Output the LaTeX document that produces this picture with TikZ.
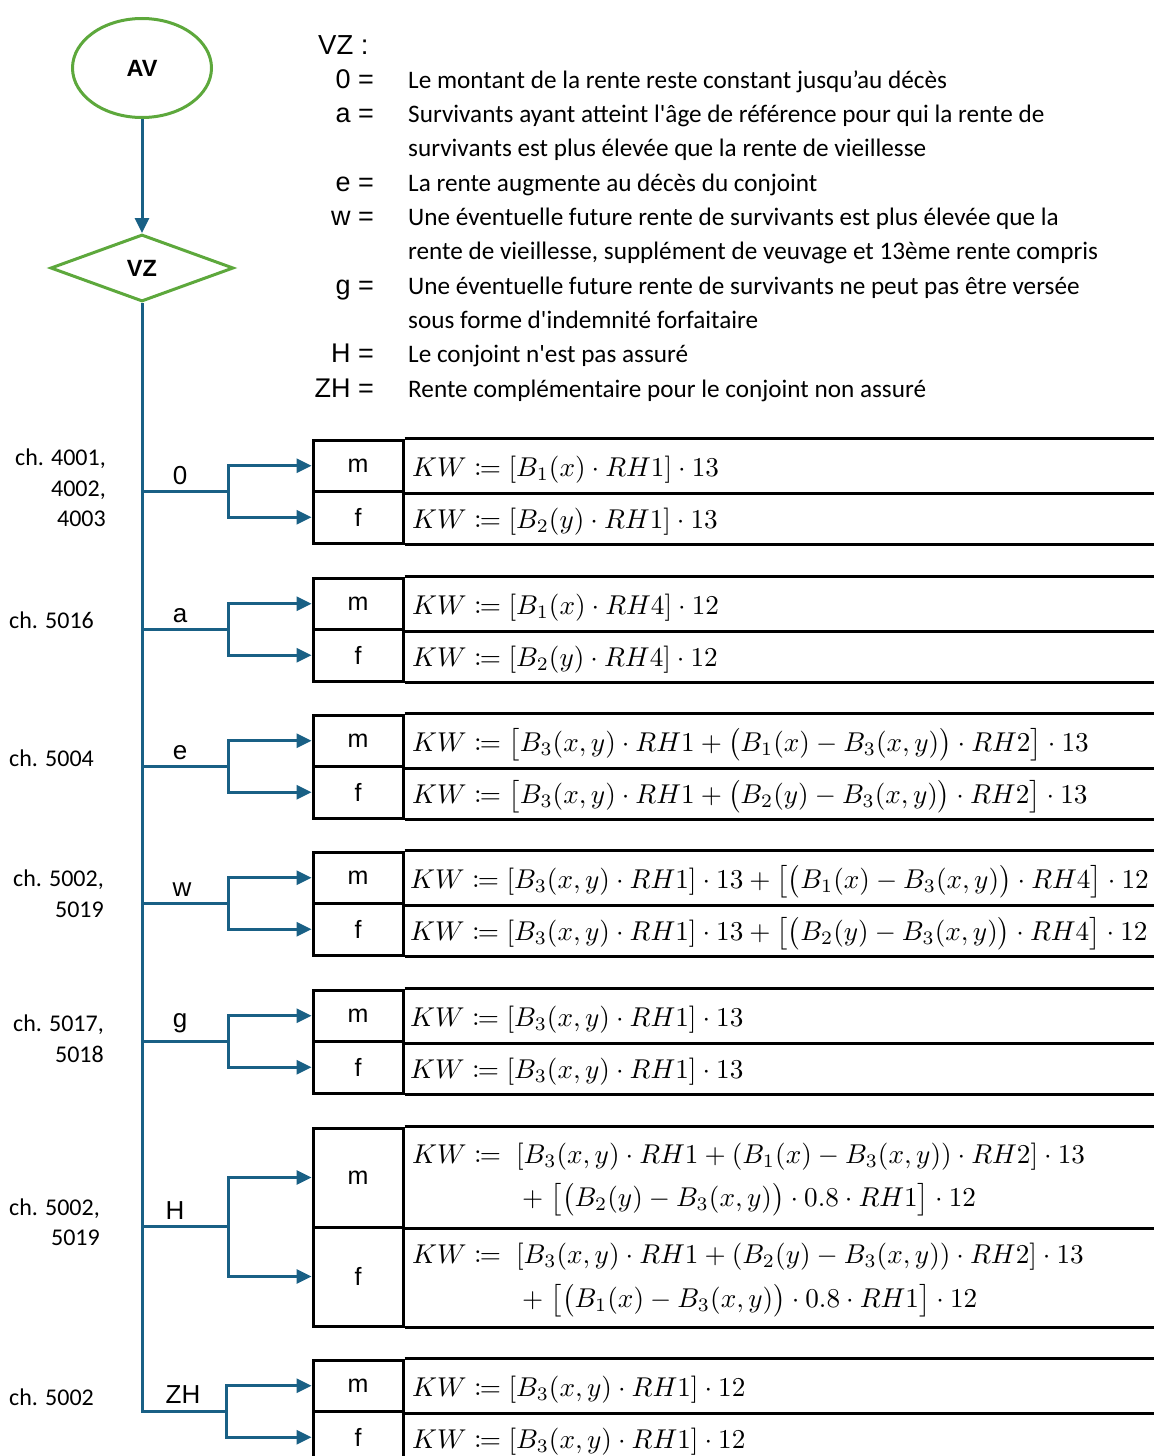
\documentclass[tikz,border=0pt]{standalone}
\usepackage{amsmath,mathtools}
\usepackage{fontspec}
\setmainfont{Carlito}
\newfontfamily\arialf{Liberation Sans}
\usetikzlibrary{shapes.geometric,arrows.meta,calc}
\definecolor{conncol}{RGB}{25,96,133}
\definecolor{grn}{RGB}{93,168,60}
\begin{document}
\begin{tikzpicture}[x=1pt,y=-1pt,
  line/.style={conncol, line width=3pt},
  arr/.style={line, -{Triangle[length=15pt,width=14pt]}},
  startnode/.style={ellipse, draw=grn, line width=3pt, minimum width=139pt, minimum height=99pt, inner sep=0pt, font=\arialf\bfseries\fontsize{23.5}{27}\selectfont},
  decnode/.style={diamond, draw=grn, line width=3pt, minimum width=183pt, minimum height=67pt, inner sep=0pt, font=\arialf\bfseries\fontsize{23.5}{27}\selectfont},
  cellm/.style={draw, line width=3pt, minimum width=90pt, minimum height=51.5pt, inner sep=0pt, font=\arialf\fontsize{25}{29}\selectfont},
  cellh/.style={cellm, minimum height=99pt},
  tbl/.style={black, line width=3pt},
  fml/.style={scale=2.72, inner sep=0pt, anchor=base west},
  hdr/.style={inner sep=0pt, anchor=base west, font=\arialf\fontsize{27.5}{31}\selectfont},
  keylbl/.style={inner sep=0pt, anchor=base east, font=\arialf\fontsize{27}{31}\selectfont},
  desc/.style={inner sep=0pt, anchor=base west, font=\fontsize{25.2}{30}\selectfont},
  chlbl/.style={inner sep=0pt, align=right, font=\fontsize{24}{30.5}\selectfont},
  brlbl/.style={inner sep=0pt, anchor=base, font=\arialf\fontsize{26}{30}\selectfont}
]
\useasboundingbox (0,0) rectangle (1154,1456);
\coordinate (edge) at (1154,0);

% start and decision
\node[startnode] (av) at (142,68) {AV};
\node[decnode] (vz) at (142,268) {VZ};
\draw[arr] (av) -- (vz);

% legend
\node[hdr] (vzh) at (318,54) {VZ :};
\node[keylbl] (k0) at (374,88.3) {0 =};
\node[keylbl] (ka) at (374,122.6) {a =};
\node[keylbl] (ke) at (374,191.2) {e =};
\node[keylbl] (kw) at (374,225.5) {w =};
\node[keylbl] (kg) at (374,294.1) {g =};
\node[keylbl] (kH) at (374,362.7) {H =};
\node[keylbl] (kZH) at (374,397) {ZH =};
\node[desc] (d1) at (408,88.3) {Le montant de la rente reste constant jusqu’au décès};
\node[desc] (d2) at (408,122.6) {Survivants ayant atteint l\textquotesingle âge de référence pour qui la rente de};
\node[desc] (d3) at (408,156.9) {survivants est plus élevée que la rente de vieillesse};
\node[desc] (d4) at (408,191.2) {La rente augmente au décès du conjoint};
\node[desc] (d5) at (408,225.5) {Une éventuelle future rente de survivants est plus élevée que la};
\node[desc] (d6) at (408,259.8) {rente de vieillesse, supplément de veuvage et 13ème rente compris};
\node[desc] (d7) at (408,294.1) {Une éventuelle future rente de survivants ne peut pas être versée};
\node[desc] (d8) at (408,328.4) {sous forme d\textquotesingle indemnité forfaitaire};
\node[desc] (d9) at (408,362.7) {Le conjoint n\textquotesingle est pas assuré};
\node[desc] (d10) at (408,397) {Rente complémentaire pour le conjoint non assuré};

% table cells
\node[cellm] (m0) at (358,465.75) {m};
\node[cellm] (f0) at (358,517.25) {f};
\node[cellm] (ma) at (358,603.75) {m};
\node[cellm] (fa) at (358,655.25) {f};
\node[cellm] (me) at (358,740.75) {m};
\node[cellm] (fe) at (358,792.25) {f};
\node[cellm] (mw) at (358,877.75) {m};
\node[cellm] (fw) at (358,929.25) {f};
\node[cellm] (mg) at (358,1015.75) {m};
\node[cellm] (fg) at (358,1067.25) {f};
\node[cellh] (mH) at (358,1177.5) {m};
\node[cellh] (fH) at (358,1276.5) {f};
\node[cellm] (mZH) at (358,1385.75) {m};
\node[cellm] (fZH) at (358,1437.25) {f};

\foreach \m/\f in {m0/f0,ma/fa,me/fe,mw/fw,mg/fg,mH/fH} {
  \draw[tbl] (\m.north east) -- (\m.north east -| edge);
  \draw[tbl] (\m.south east) -- (\m.south east -| edge);
  \draw[tbl] (\f.south east) -- (\f.south east -| edge);
}
\draw[tbl] (mZH.north east) -- (mZH.north east -| edge);
\draw[tbl] (mZH.south east) -- (mZH.south east -| edge);

% formulas
\node[fml] (q0m) at ($(m0.east)+(7,11)$) {$KW \coloneqq [B_1(x)\cdot RH1]\cdot 13$};
\node[fml] (q0f) at ($(f0.east)+(7,11)$) {$KW \coloneqq [B_2(y)\cdot RH1]\cdot 13$};
\node[fml] (qam) at ($(ma.east)+(7,11)$) {$KW \coloneqq [B_1(x)\cdot RH4]\cdot 12$};
\node[fml] (qaf) at ($(fa.east)+(7,11)$) {$KW \coloneqq [B_2(y)\cdot RH4]\cdot 12$};
\node[fml] (qem) at ($(me.east)+(7,11)$) {$KW \coloneqq \bigl[B_3(x,y)\cdot RH1+\bigl(B_1(x)-B_3(x,y)\bigr)\cdot RH2\bigr]\cdot 13$};
\node[fml] (qef) at ($(fe.east)+(7,11)$) {$KW \coloneqq \bigl[B_3(x,y)\cdot RH1+\bigl(B_2(y)-B_3(x,y)\bigr)\cdot RH2\bigr]\cdot 13$};
\node[fml] (qwm) at ($(mw.east)+(5,11)$) {$KW \coloneqq [B_3(x,y)\cdot RH1]\cdot 13+\bigl[\bigl(B_1(x)-B_3(x,y)\bigr)\cdot RH4\bigr]\cdot 12$};
\node[fml] (qwf) at ($(fw.east)+(5,11)$) {$KW \coloneqq [B_3(x,y)\cdot RH1]\cdot 13+\bigl[\bigl(B_2(y)-B_3(x,y)\bigr)\cdot RH4\bigr]\cdot 12$};
\node[fml] (qgm) at ($(mg.east)+(5,11)$) {$KW \coloneqq [B_3(x,y)\cdot RH1]\cdot 13$};
\node[fml] (qgf) at ($(fg.east)+(5,11)$) {$KW \coloneqq [B_3(x,y)\cdot RH1]\cdot 13$};
\node[fml] (qHm1) at ($(mH.east)+(7,-14)$) {$KW \coloneqq\; [B_3(x,y)\cdot RH1+(B_1(x)-B_3(x,y))\cdot RH2]\cdot 13$};
\node[fml] (qHm2) at ($(mH.east)+(117,29)$) {$+\;\bigl[\bigl(B_2(y)-B_3(x,y)\bigr)\cdot 0.8\cdot RH1\bigr]\cdot 12$};
\node[fml] (qHf1) at ($(fH.east)+(7,-13)$) {$KW \coloneqq\; [B_3(x,y)\cdot RH1+(B_2(y)-B_3(x,y))\cdot RH2]\cdot 13$};
\node[fml] (qHf2) at ($(fH.east)+(117,31)$) {$+\;\bigl[\bigl(B_1(x)-B_3(x,y)\bigr)\cdot 0.8\cdot RH1\bigr]\cdot 12$};
\node[fml] (qZHm) at ($(mZH.east)+(7,11)$) {$KW \coloneqq [B_3(x,y)\cdot RH1]\cdot 12$};
\node[fml] (qZHf) at ($(fZH.east)+(7,11)$) {$KW \coloneqq [B_3(x,y)\cdot RH1]\cdot 12$};

% chapter labels
\node[chlbl, anchor=east] (c0) at (106,488) {ch. 4001,\\4002,\\4003};
\node[chlbl, anchor=west] (ca) at (9,620) {ch. 5016};
\node[chlbl, anchor=west] (ce) at (9,758) {ch. 5004};
\node[chlbl, anchor=east] (cw) at (104,893.5) {ch. 5002,\\5019};
\node[chlbl, anchor=east] (cg) at (104,1038.5) {ch. 5017,\\5018};
\node[chlbl, anchor=east] (cH) at (100,1222) {ch. 5002,\\5019};
\node[chlbl, anchor=west] (cZH) at (9,1397) {ch. 5002};

% branch points
\coordinate (b0) at (142,491);   \coordinate (s0) at (228,491);
\coordinate (ba) at (142,629);   \coordinate (sa) at (228,629);
\coordinate (be) at (142,766);   \coordinate (se) at (228,766);
\coordinate (bw) at (142,903);   \coordinate (sw) at (228,903);
\coordinate (bg) at (142,1041);  \coordinate (sg) at (228,1041);
\coordinate (bH) at (142,1226);  \coordinate (sH) at (228,1226);
\coordinate (sZH) at (226,1411);

% trunk
\draw[line] (vz.south) |- (sZH);
\foreach \b/\s in {b0/s0,ba/sa,be/se,bw/sw,bg/sg,bH/sH} {
  \draw[line] (\b) -- (\s);
}
\foreach \s/\m/\f in {s0/m0/f0,sa/ma/fa,se/me/fe,sw/mw/fw,sg/mg/fg,sH/mH/fH,sZH/mZH/fZH} {
  \draw[arr] (\s) |- (\m.west);
  \draw[arr] (\s) |- (\f.west);
}

% branch labels
\node[brlbl] (l0) at (180,484) {0};
\node[brlbl] (la) at (180,622) {a};
\node[brlbl] (le) at (180,759) {e};
\node[brlbl] (lw) at (182,896) {w};
\node[brlbl] (lg) at (180,1027) {g};
\node[brlbl] (lH) at (175,1219) {H};
\node[brlbl] (lZH) at (183,1403) {ZH};
\end{tikzpicture}
\end{document}
